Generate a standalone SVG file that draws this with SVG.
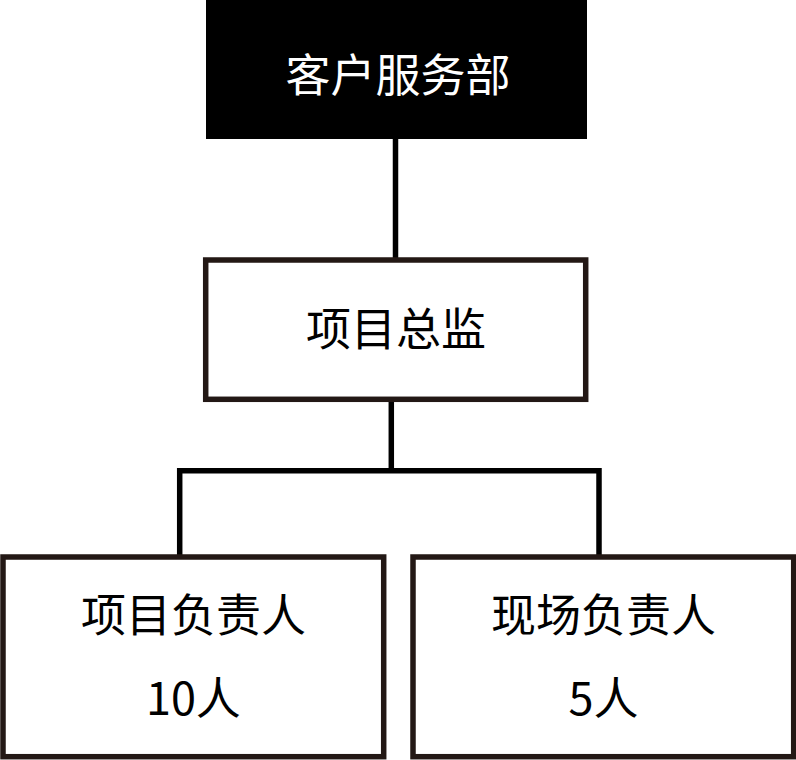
<svg xmlns="http://www.w3.org/2000/svg" width="796" height="760" viewBox="0 0 796 760">
<style>
.box{fill:#fff;stroke:#231815;stroke-width:5.5}
.con{fill:none;stroke:#000;stroke-width:5.5}
text{font-family:"Noto Sans CJK SC","Noto Sans",sans-serif;font-size:45px;text-anchor:middle;fill:#000}
.w{fill:#fff}
</style>
<rect width="796" height="760" fill="#fff"/>
<g id="connectors">
<line class="con" x1="395.5" y1="138" x2="395.5" y2="260"/>
<line class="con" x1="391.3" y1="399" x2="391.3" y2="470.7"/>
<polyline class="con" points="179.7,557 179.7,470.7 599,470.7 599,557"/>
</g>
<g id="n1">
<rect x="206" y="0" width="381" height="139" fill="#000"/>
<text class="w" x="398" y="92">客户服务部</text>
</g>
<g id="n2">
<rect class="box" x="205.7" y="260" width="380" height="139.3"/>
<text x="396" y="346">项目总监</text>
</g>
<g id="n3">
<rect class="box" x="3" y="557" width="380.7" height="199.7"/>
<text x="193.4" y="632">项目负责人</text>
<text x="193.4" y="715">10人</text>
</g>
<g id="n4">
<rect class="box" x="413" y="557" width="380.7" height="199.7"/>
<text x="603.4" y="632">现场负责人</text>
<text x="603.4" y="715">5人</text>
</g>
</svg>
